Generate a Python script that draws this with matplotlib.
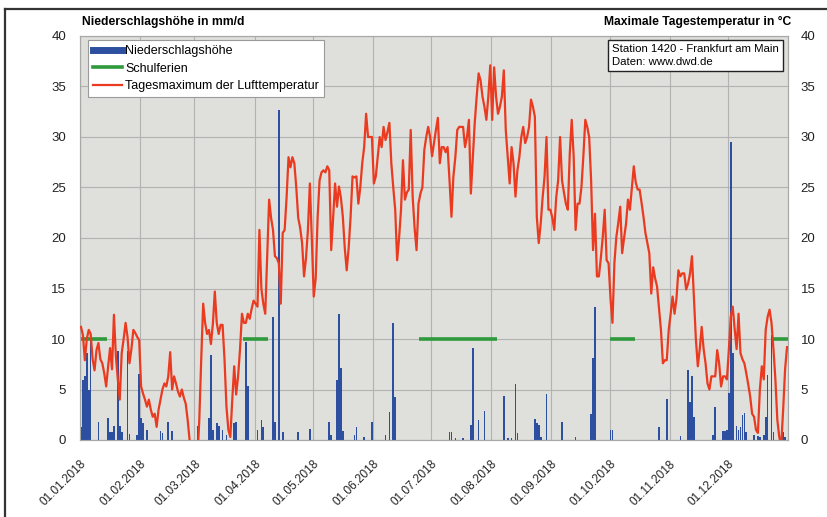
import matplotlib.pyplot as plt
import numpy as np
from matplotlib.lines import Line2D

plt.rcParams['font.family'] = ['Liberation Sans', 'DejaVu Sans']

# daily maximum temperature, Frankfurt 2018, one list per month
t_jan = [11.2, 10.4, 7.9, 10, 10.9, 10.5, 8, 6.9, 8.9, 9.6, 8, 7.6, 6.6, 5.3, 7.3, 9.1,
         7, 12.4, 8.3, 6, 4, 8.6, 10, 11.6, 10.2, 7.6, 9, 10.9, 10.6, 10.2, 9.9]
t_feb = [5.3, 4.6, 4, 3.3, 4, 3, 2.3, 2.6, 1.3, 3, 4, 5, 5.6, 5.3, 6.3, 8.7,
         5, 6.3, 5.6, 4.8, 4.3, 5, 4.2, 3.6, 2, 0, -2, -4]
t_mar = [-4, -2, 2, 8, 13.5, 11.6, 10.5, 10.9, 9.5, 11.5, 14.7, 11.6, 10.5, 11.4, 11.4, 8,
         3.3, 1, 0.3, 4, 7.3, 4.5, 6.3, 9, 12.5, 11.6, 11.6, 12.5, 12, 13, 13.8]
t_apr = [13.5, 13.2, 20.8, 15, 13.5, 12.5, 18, 23.8, 22, 20.8, 18.2, 18, 17.5, 13.5, 20.5,
         20.8, 24, 28, 27, 28, 27.4, 25, 22, 21, 19.5, 16.2, 18, 20.8, 25.4, 20]
t_may = [14.2, 16, 22, 25.7, 26.5, 26.7, 26.5, 27.1, 26.7, 18.8, 22, 25.4, 23.1, 25.1, 24, 22.1,
         19, 16.8, 19, 22.1, 26.1, 26, 26.1, 23.4, 25, 27.4, 29, 32.3, 30, 30, 30]
t_jun = [25.4, 26.1, 28, 30, 29, 31, 29.7, 30.5, 31.4, 27.4, 25, 22.8, 17.8, 20, 22.8,
         27.7, 23.8, 24.5, 24.8, 30.7, 24.1, 21, 18.8, 23.4, 24.4, 25, 28.7, 30, 31, 30]
t_jul = [28.1, 29.4, 30.7, 31.9, 27.4, 29, 29, 28.5, 29, 25.7, 22.1, 26.1, 28, 30.7, 31, 31,
         31, 29, 30, 31.7, 24.4, 28, 31.4, 34, 36.3, 35.6, 34, 33, 31.7, 34, 37.1]
t_aug = [31.7, 36.9, 34, 32.3, 33, 34, 36.6, 30.7, 28, 25.4, 29, 27.4, 24.1, 26.7, 28, 30,
         31, 29.4, 30, 31, 33.7, 33, 32, 22.1, 19.5, 21.4, 24, 26.1, 30, 22.8, 22.8]
t_sep = [22, 20.8, 24, 25.7, 30, 25.7, 24.5, 23.4, 22.8, 28.4, 31.7, 28.1, 20.8, 23.4, 23.4,
         25, 28.1, 31.7, 31, 30, 25.7, 18.8, 22.4, 16.2, 16.2, 18, 20.1, 22.8, 17.8, 17.5]
t_oct = [14, 11.6, 17.5, 20.1, 21.5, 23.1, 18.5, 20, 21.4, 23.8, 22.8, 25, 27.1, 25.5, 24.8, 24.8,
         23.5, 22.1, 20.5, 19.5, 18.5, 14.5, 17.1, 16, 15.2, 13, 10.9, 7.6, 7.9, 7.9, 10.9]
t_nov = [12.5, 14.2, 12.5, 14, 16.8, 16.2, 16.5, 16.5, 14.9, 15.5, 16.5, 18.2, 14.2, 10, 7.3,
         9, 11.2, 9, 7.6, 5.6, 5, 6.3, 6.3, 6.3, 8.9, 7.6, 5.3, 6.3, 6.3, 6]
t_dec = [8.9, 12.2, 13.2, 11, 9, 12.5, 8.6, 8, 7.6, 6.6, 5.5, 4.3, 2.6, 2.3, 1, 0.7,
         5, 7.3, 6, 10.9, 12.2, 12.9, 11.6, 9, 6, 2, 0.3, -0.5, 3, 7, 9.2]
tmax = (t_jan + t_feb + t_mar + t_apr + t_may + t_jun + t_jul + t_aug
        + t_sep + t_oct + t_nov + t_dec)

# precipitation: day of year (0 = 1 Jan) and amount in mm
rain_day = [0, 1, 2, 3, 4, 5, 9, 14, 15, 16, 17, 19, 20, 21, 24, 25, 29, 30,
            31, 32, 34, 41, 42, 45, 47, 56,
            60, 66, 67, 68, 70, 71, 73, 75, 79, 80, 85, 86,
            91, 93, 94, 99, 100, 102, 104, 112, 118,
            128, 129, 132, 133, 134, 135, 141, 142, 146, 150,
            157, 159, 161, 162,
            190, 191, 193, 197, 201, 202, 205, 208,
            218, 220, 222, 224, 225, 234, 235, 236, 237, 240,
            248, 255, 263, 264, 265, 273,
            274, 298, 302,
            309, 313, 314, 315, 316, 326, 327, 331, 332, 333,
            334, 335, 336, 338, 339, 340, 341, 342, 343, 347, 349, 350, 352, 353, 354, 356, 357, 362, 363]
rain_mm = [1.3, 5.9, 6.3, 8.6, 5.0, 10.7, 1.8, 2.2, 0.8, 0.8, 1.4, 8.8, 1.4, 0.8, 8.8, 0.6, 0.5, 6.5,
           2.2, 1.7, 1.0, 0.9, 0.7, 1.8, 0.9, 0.3,
           1.4, 2.2, 8.4, 1.0, 1.7, 1.4, 1.0, 0.5, 1.7, 1.8, 9.7, 5.3,
           1.0, 2.0, 1.3, 12.2, 1.8, 32.7, 0.8, 0.8, 1.1,
           1.8, 0.5, 5.9, 12.5, 7.1, 0.9, 0.5, 1.3, 0.3, 1.8,
           0.5, 2.8, 11.6, 4.3,
           0.8, 0.8, 0.2, 0.2, 1.5, 9.1, 2.0, 2.9,
           4.4, 0.2, 0.2, 5.5, 0.7, 2.1, 1.7, 1.5, 0.3, 4.6,
           1.8, 0.3, 2.6, 8.1, 13.2, 1.0,
           1.0, 1.3, 4.1,
           0.4, 6.9, 3.8, 6.3, 2.3, 0.5, 3.3, 0.9, 0.9, 1.0,
           4.7, 29.5, 8.6, 1.4, 1.0, 1.3, 2.5, 2.7, 0.8, 0.5, 0.4, 0.3, 0.5, 2.3, 6.4, 10.4, 0.8, 0.8, 0.3]

# school holidays (Hessen), first day and day after the last day
ferien_start = [0, 84, 175, 273, 357]
ferien_end = [14, 97, 215, 286, 365]

month_start = [0, 31, 59, 90, 120, 151, 181, 212, 243, 273, 304, 334]
month_label = ['01.01.2018', '01.02.2018', '01.03.2018', '01.04.2018', '01.05.2018', '01.06.2018',
               '01.07.2018', '01.08.2018', '01.09.2018', '01.10.2018', '01.11.2018', '01.12.2018']

W, H = 828, 517
fig = plt.figure(figsize=(W / 100, H / 100), dpi=100)
ax = fig.add_axes([80 / W, 1 - 440 / H, 708 / W, 404 / H])
ax.set_facecolor('#dfdfdb')

blue = '#2c4f9f'
green = '#2f9a3c'
red = '#ea3a1f'

ax.bar(np.array(rain_day) + 0.5, rain_mm, width=0.85, color=blue, zorder=3, linewidth=0)
for s, e in zip(ferien_start, ferien_end):
    ax.plot([s, e], [10, 10], color=green, lw=2.6, solid_capstyle='butt', zorder=4)

ax2 = ax.twinx()
ax2.plot(np.arange(len(tmax)) + 0.5, tmax, color=red, lw=1.6, zorder=5)

for a in (ax, ax2):
    a.set_xlim(0, 365)
    a.set_ylim(0, 40)
    a.set_yticks(range(0, 41, 5))
    for sp in a.spines.values():
        sp.set_color('#a8a8a8')
        sp.set_linewidth(0.8)

ax.set_xticks(month_start)
ax.set_xticklabels(month_label, rotation=45, ha='right', rotation_mode='anchor', fontsize=8.5, color='#222222')
ax.tick_params(axis='x', length=0, pad=13)
ax.tick_params(axis='y', length=0, pad=10, labelsize=9.5, labelcolor='#222222')
ax2.tick_params(axis='y', length=0, pad=9, labelsize=9.5, labelcolor='#222222')
ax.grid(True, color='#b2b2b2', lw=0.8)
ax.set_axisbelow(True)

handles = [Line2D([], [], color=blue, lw=5),
           Line2D([], [], color=green, lw=2.6),
           Line2D([], [], color=red, lw=1.6)]
labels = ['Niederschlagshöhe', 'Schulferien', 'Tagesmaximum der Lufttemperatur']
leg = ax2.legend(handles, labels, loc='upper left', bbox_to_anchor=(0.011, 0.99), fontsize=9,
                 frameon=True, fancybox=False, edgecolor='#9a9a9a', framealpha=1,
                 handlelength=2.3, handletextpad=0.3, labelspacing=0.45, borderpad=0.4,
                 borderaxespad=0)
leg.get_frame().set_linewidth(0.8)

ax2.text(0.987, 0.98, 'Station 1420 - Frankfurt am Main\nDaten: www.dwd.de', transform=ax2.transAxes,
         ha='right', va='top', fontsize=8.2, multialignment='left', linespacing=1.35,
         bbox=dict(boxstyle='square,pad=0.35', fc='white', ec='#222222', lw=1))

fig.text(82 / W, 1 - 22 / H, 'Niederschlagshöhe in mm/d', fontsize=8.7, fontweight='bold',
         ha='left', va='center')
fig.text(791 / W, 1 - 22 / H, 'Maximale Tagestemperatur in °C', fontsize=8.7, fontweight='bold',
         ha='right', va='center')

# frame around the chart
fig.add_artist(Line2D([5 / W, 1], [1 - 9 / H, 1 - 9 / H], color='#333333', lw=1.6))
fig.add_artist(Line2D([5 / W, 5 / W], [0, 1 - 9 / H], color='#333333', lw=1.6))

fig.savefig('out.png', dpi=100)
